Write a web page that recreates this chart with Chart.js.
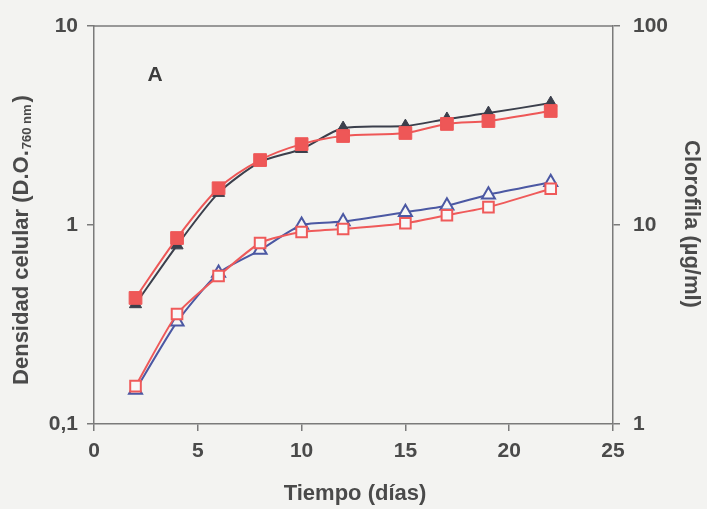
<!DOCTYPE html>
<html>
<head>
<meta charset="utf-8">
<script src="https://cdn.jsdelivr.net/npm/chart.js"></script>
<style>
	html, body { margin: 0; padding: 0; background: #f3f3f1; }
	#wrap { width: 707px; height: 509px; }
</style>
</head>
<body>
<div id="wrap"><canvas id="grafico" width="707" height="509"></canvas></div>
<script>

let dias = [2, 4, 6, 8, 10, 12, 15, 17, 19, 22];

// densidad celular (D.O. 760 nm), eje izquierdo
let densidadControl = [0.40, 0.79, 1.45, 2.07, 2.41, 3.07, 3.14, 3.41, 3.65, 4.10];
let densidadLuz = [0.43, 0.86, 1.53, 2.12, 2.55, 2.80, 2.90, 3.22, 3.33, 3.74];

// clorofila (ug/ml), eje derecho
let clorofilaControl = [1.48, 3.26, 5.74, 7.48, 10.0, 10.4, 11.6, 12.5, 14.2, 16.4];
let clorofilaLuz = [1.55, 3.57, 5.54, 8.12, 9.22, 9.55, 10.2, 11.2, 12.3, 15.2];

let ticksDensidad = [0.1, 1, 10];
let ticksClorofila = [1, 10, 100];

let FUENTE = '"Liberation Sans", Arial, sans-serif';
let GRIS_TEXTO = '#4a4a4a';
let GRIS_EJE = '#7a7a7a';

function puntos(valores) {

	return dias.map(function(d, i) { return { x: d, y: valores[i] }; });

}

function ejeLog(posicion, min, max, valores, padding) {

	return {
		type: 'logarithmic',
		position: posicion,
		min: min,
		max: max,
		afterBuildTicks: function(scale) {
			scale.ticks = valores.map(function(v) { return { value: v }; });
		},
		afterFit: function(scale) { scale.width = 94; },
		ticks: {
			padding: padding,
			color: GRIS_TEXTO,
			font: { family: FUENTE, size: 21, weight: 'bold' },
			callback: function(v) { return String(v).replace('.', ','); }
		},
		grid: { display: true, drawOnChartArea: false, drawTicks: true, tickLength: 7, color: GRIS_EJE, lineWidth: 1.5 },
		border: { display: true, color: GRIS_EJE, width: 1.5 }
	};

}

// titulos de ejes, letra del panel y marco superior
let rotulos = {
	id: 'rotulos',
	beforeDraw: function(chart) {
		let ctx = chart.ctx;
		ctx.save();
		ctx.fillStyle = '#f3f3f1';
		ctx.fillRect(0, 0, chart.width, chart.height);
		ctx.restore();
	},
	afterDraw: function(chart) {
		let ctx = chart.ctx;
		let area = chart.chartArea;

		ctx.save();
		ctx.strokeStyle = GRIS_EJE;
		ctx.lineWidth = 1.5;
		ctx.beginPath();
		ctx.moveTo(area.left, area.top);
		ctx.lineTo(area.right, area.top);
		ctx.stroke();

		ctx.fillStyle = GRIS_TEXTO;
		ctx.textBaseline = 'middle';

		// eje X
		ctx.textAlign = 'center';
		ctx.font = 'bold 22px ' + FUENTE;
		ctx.fillText('Tiempo (días)', 355, 494);

		// letra del panel
		ctx.fillStyle = '#3c3c3c';
		ctx.font = 'bold 21px ' + FUENTE;
		ctx.fillText('A', 155, 75);
		ctx.fillStyle = GRIS_TEXTO;

		// eje izquierdo, con subindice
		let principal = 'Densidad celular (D.O.';
		let sub = '760 nm';
		ctx.font = 'bold 22px ' + FUENTE;
		let w1 = ctx.measureText(principal).width;
		let w3 = ctx.measureText(')').width;
		ctx.font = 'bold 13px ' + FUENTE;
		let w2 = ctx.measureText(sub).width;
		let total = w1 + w2 + w3 + 3;

		ctx.save();
		ctx.translate(22, 240);
		ctx.rotate(-Math.PI / 2);
		ctx.textAlign = 'left';
		let x0 = -total / 2;
		ctx.font = 'bold 22px ' + FUENTE;
		ctx.fillText(principal, x0, 0);
		ctx.font = 'bold 13px ' + FUENTE;
		ctx.fillText(sub, x0 + w1 + 1, 5);
		ctx.font = 'bold 22px ' + FUENTE;
		ctx.fillText(')', x0 + w1 + w2 + 3, 0);
		ctx.restore();

		// eje derecho
		ctx.save();
		ctx.translate(691, 224);
		ctx.rotate(Math.PI / 2);
		ctx.textAlign = 'center';
		ctx.font = 'bold 22px ' + FUENTE;
		ctx.fillText('Clorofila (µg/ml)', 0, 0);
		ctx.restore();

		ctx.restore();
	}
};

new Chart(document.getElementById('grafico'), {
	type: 'line',
	data: {
		datasets: [
			{
				data: puntos(densidadLuz),
				yAxisID: 'y',
				order: 1,
				borderColor: '#ee5757',
				borderWidth: 2,
				pointStyle: 'rect',
				pointRadius: 9,
				pointBackgroundColor: '#ee5757',
				pointBorderColor: '#ee5757',
				pointBorderWidth: 1,
				tension: 0.3
			},
			{
				data: puntos(densidadControl),
				yAxisID: 'y',
				order: 2,
				borderColor: '#3b3f4c',
				borderWidth: 2,
				pointStyle: 'triangle',
				pointRadius: 7,
				pointBackgroundColor: '#3b3f4c',
				pointBorderColor: '#3b3f4c',
				pointBorderWidth: 1,
				tension: 0.25
			},
			{
				data: puntos(clorofilaLuz),
				yAxisID: 'y2',
				order: 3,
				borderColor: '#ef5a5a',
				borderWidth: 2,
				pointStyle: 'rect',
				pointRadius: 7.5,
				pointBackgroundColor: '#f8f8f8',
				pointBorderColor: '#ef5a5a',
				pointBorderWidth: 2,
				tension: 0.2
			},
			{
				data: puntos(clorofilaControl),
				yAxisID: 'y2',
				order: 4,
				borderColor: '#4b58a3',
				borderWidth: 2,
				pointStyle: 'triangle',
				pointRadius: 7.5,
				pointBackgroundColor: '#f6f6f6',
				pointBorderColor: '#4b58a3',
				pointBorderWidth: 2,
				tension: 0.2
			}
		]
	},
	options: {
		responsive: false,
		animation: false,
		layout: { padding: { top: 26, left: 0, right: 0, bottom: 0 } },
		plugins: { legend: { display: false }, tooltip: { enabled: false } },
		scales: {
			x: {
				type: 'linear',
				min: 0,
				max: 25,
				afterFit: function(scale) { scale.height = 85; },
				ticks: {
					stepSize: 5,
					padding: 8,
					color: GRIS_TEXTO,
					font: { family: FUENTE, size: 21, weight: 'bold' }
				},
				grid: { display: true, drawOnChartArea: false, drawTicks: true, tickLength: 7, color: GRIS_EJE, lineWidth: 1.5 },
				border: { display: true, color: GRIS_EJE, width: 1.5 }
			},
			y: ejeLog('left', 0.1, 10, ticksDensidad, 9),
			y2: ejeLog('right', 1, 100, ticksClorofila, 13)
		}
	},
	plugins: [rotulos]
});

</script>
</body>
</html>
